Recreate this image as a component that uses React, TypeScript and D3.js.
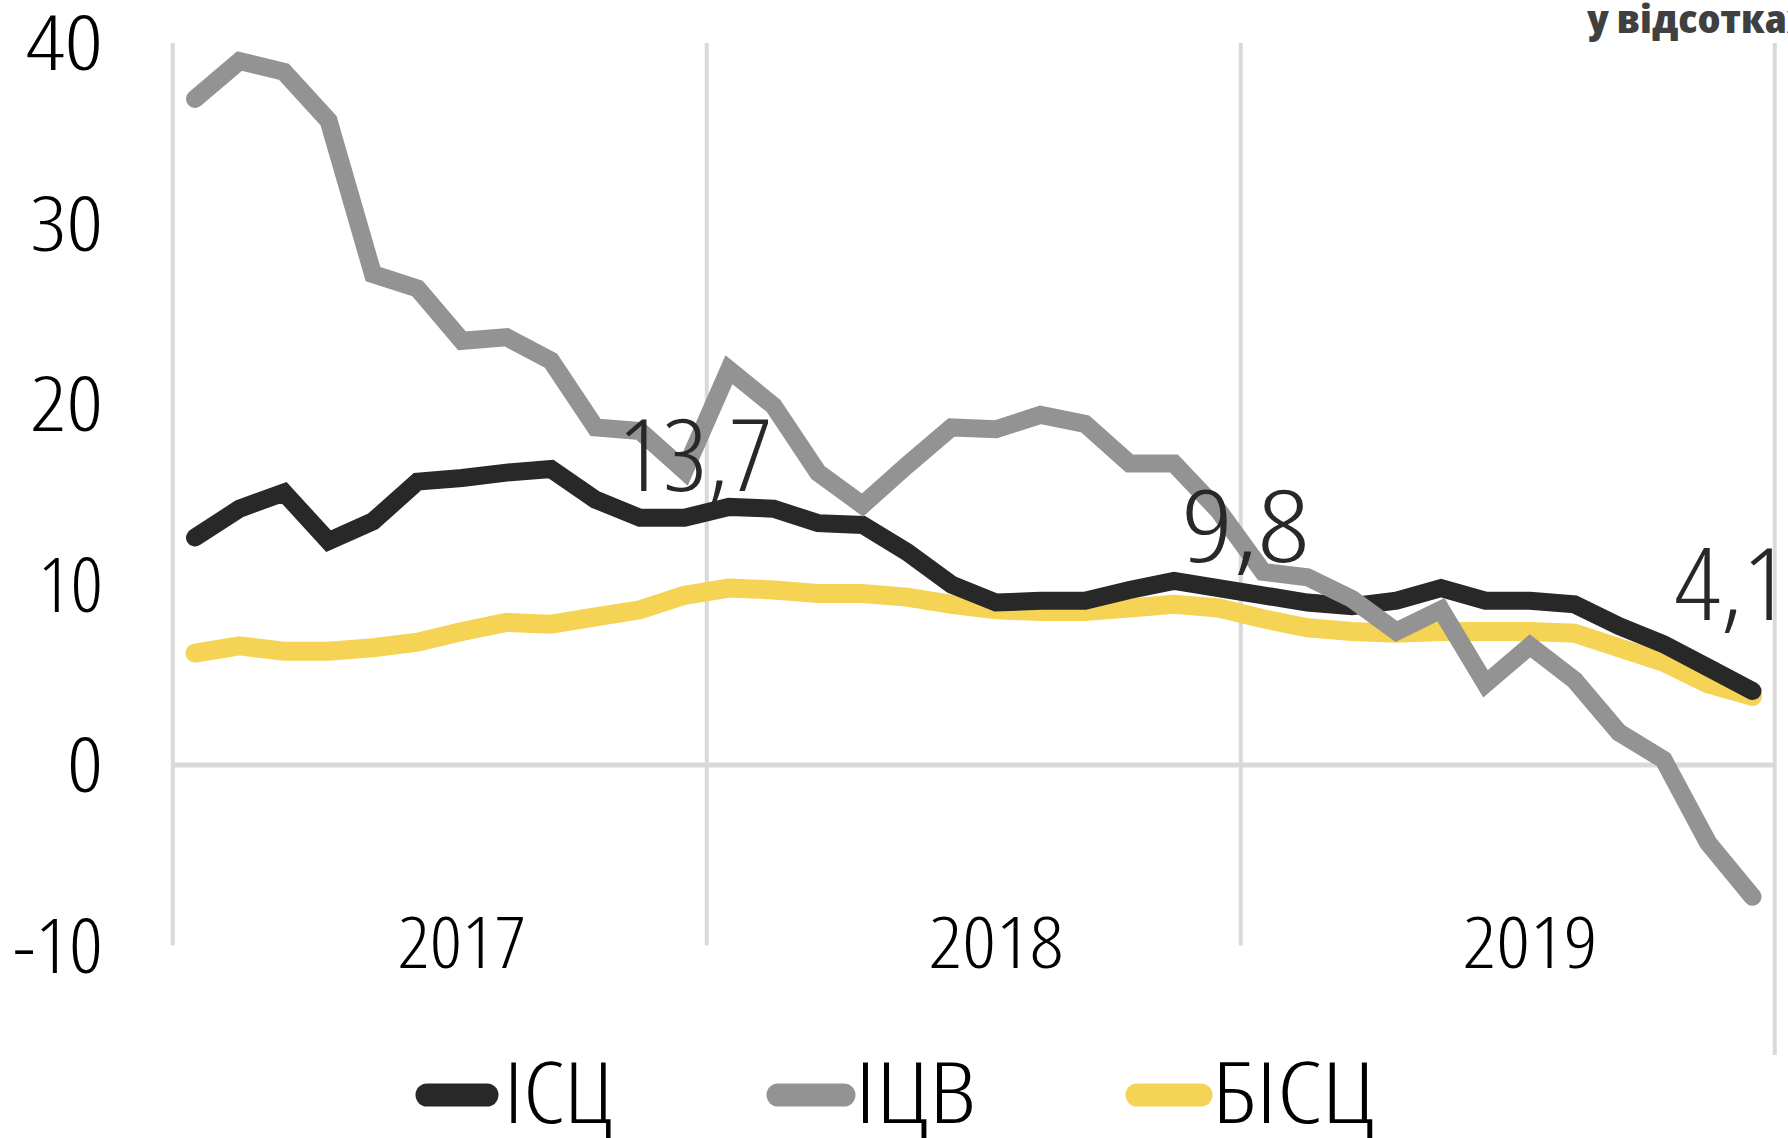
import React from 'react'
import * as d3 from 'd3'

// monthly observations, Jan 2017 .. Dec 2019
const months = [
  '2017-01', '2017-02', '2017-03', '2017-04', '2017-05', '2017-06',
  '2017-07', '2017-08', '2017-09', '2017-10', '2017-11', '2017-12',
  '2018-01', '2018-02', '2018-03', '2018-04', '2018-05', '2018-06',
  '2018-07', '2018-08', '2018-09', '2018-10', '2018-11', '2018-12',
  '2019-01', '2019-02', '2019-03', '2019-04', '2019-05', '2019-06',
  '2019-07', '2019-08', '2019-09', '2019-10', '2019-11', '2019-12',
]
const years = ['2017', '2018', '2019']
const yTicks = [-10, 0, 10, 20, 30, 40]

// ІСЦ - consumer prices
const cpi = [
  12.6, 14.2, 15.1, 12.4, 13.5, 15.7, 15.9, 16.2, 16.4, 14.7, 13.7, 13.7,
  14.3, 14.2, 13.4, 13.3, 11.8, 10.0, 9.0, 9.1, 9.1, 9.7, 10.2, 9.8,
  9.4, 9.0, 8.8, 9.1, 9.8, 9.1, 9.1, 8.9, 7.7, 6.7, 5.4, 4.1,
]
// ІЦВ - producer prices
const ppi = [
  36.9, 39.0, 38.4, 35.7, 27.2, 26.4, 23.5, 23.7, 22.4, 18.7, 18.5, 16.3,
  21.9, 19.9, 16.2, 14.4, 16.6, 18.7, 18.6, 19.4, 18.9, 16.7, 16.7, 14.1,
  10.7, 10.4, 9.2, 7.4, 8.6, 4.5, 6.6, 4.7, 1.8, 0.3, -4.3, -7.3,
]
// БІСЦ - core inflation
const core = [
  6.2, 6.6, 6.3, 6.3, 6.5, 6.8, 7.4, 7.9, 7.8, 8.2, 8.6, 9.4,
  9.8, 9.7, 9.5, 9.5, 9.3, 8.9, 8.6, 8.5, 8.5, 8.7, 8.9, 8.7,
  8.1, 7.6, 7.4, 7.3, 7.4, 7.4, 7.4, 7.3, 6.5, 5.7, 4.5, 3.8,
]

const calloutMonths = ['2017-12', '2018-12', '2019-12']
const calloutTexts = ['13,7', '9,8', '4,1']

const seriesNames = ['ІСЦ', 'ІЦВ', 'БІСЦ']
const unitText = 'у відсотках'

const W = 1788
const H = 1138
const FONT = "'Open Sans', sans-serif"
const GRID = '#d9d9d9'
const colors = { 'ІСЦ': '#282828', 'ІЦВ': '#939393', 'БІСЦ': '#f5d354' }

// the original font is narrow; widths are fitted with textLength
const narrow = { fontStretch: 'condensed' }

export default function App() {
  const x = d3.scaleBand().domain(months).range([172.75, 1774.75])
  const cx = (m: string) => (x(m) as number) + x.bandwidth() / 2
  const y = d3.scaleLinear().domain([-10, 40]).range([945.5, 43])

  const line = d3.line<number>()
    .x((d, i) => cx(months[i]))
    .y(d => y(d))

  const bounds = years.map(yr => x(yr + '-01') as number).concat([x.range()[1]])
  const series = [
    { name: 'БІСЦ', data: core },
    { name: 'ІСЦ', data: cpi },
    { name: 'ІЦВ', data: ppi },
  ]

  const tickW: Record<string, number> = { '-10': 90, '0': 36, '10': 65, '20': 73, '30': 73, '40': 77 }
  const yearW = [129, 135, 135]

  // label offsets relative to the ІСЦ point
  const calloutDx = [11, 27, -21]
  const calloutDy = [-27, -26, -71]
  const calloutW = [155, 128, 114]

  const legendX = [427, 778, 1137]
  const legendLen = [60, 66, 64]
  const legendTextX = [504, 855, 1212]
  const legendW = [109, 121, 163]

  return (
    <svg width={W} height={H} style={{ position: 'absolute', left: 0, top: 0, background: '#fff' }}
      fontFamily={FONT}>
      {/* grid */}
      {bounds.map((bx, i) => (
        <line key={'v' + i} x1={bx} x2={bx} y1={y(40)}
          y2={i === bounds.length - 1 ? 1055 : y(-10)}
          stroke={GRID} strokeWidth={4} />
      ))}
      <line x1={bounds[0]} x2={bounds[3]} y1={y(0)} y2={y(0)} stroke={GRID} strokeWidth={5} />

      {/* y axis labels */}
      {yTicks.map(t => (
        <text key={t} x={103} y={y(t)} dy="0.36em" textAnchor="end" fontSize={75}
          fontWeight={300} style={narrow} fill="#000"
          textLength={tickW[String(t)]} lengthAdjust="spacingAndGlyphs">{t}</text>
      ))}

      {/* year labels */}
      {years.map((yr, i) => (
        <text key={yr} x={cx(yr + '-07')} y={968} textAnchor="middle" fontSize={72}
          fontWeight={300} style={narrow} fill="#000"
          textLength={yearW[i]} lengthAdjust="spacingAndGlyphs">{yr}</text>
      ))}

      {/* lines */}
      {series.map(s => (
        <path key={s.name} d={line(s.data) || ''} fill="none"
          stroke={colors[s.name as keyof typeof colors]} strokeWidth={s.name === 'БІСЦ' ? 19 : 18}
          strokeLinecap="round" strokeLinejoin="miter" />
      ))}

      {/* callouts */}
      {calloutMonths.map((m, i) => (
        <text key={m} x={cx(m) + calloutDx[i]} y={y(cpi[months.indexOf(m)]) + calloutDy[i]}
          textAnchor="middle" fontSize={100} fontWeight={300} style={narrow} fill="#282828"
          textLength={calloutW[i]} lengthAdjust="spacingAndGlyphs">{calloutTexts[i]}</text>
      ))}

      {/* unit */}
      <text x={1587} y={33} fontSize={38} fontWeight={800} fill="#404040" style={narrow}
        textLength={221} lengthAdjust="spacingAndGlyphs">{unitText}</text>

      {/* legend */}
      {seriesNames.map((n, i) => (
        <g key={n}>
          <line x1={legendX[i]} x2={legendX[i] + legendLen[i]} y1={1095} y2={1095}
            stroke={colors[n as keyof typeof colors]} strokeWidth={23} strokeLinecap="round" />
          <text x={legendTextX[i]} y={1123} fontSize={85} fontWeight={300} style={narrow} fill="#000"
            textLength={legendW[i]} lengthAdjust="spacingAndGlyphs">{n}</text>
        </g>
      ))}
    </svg>
  )
}
